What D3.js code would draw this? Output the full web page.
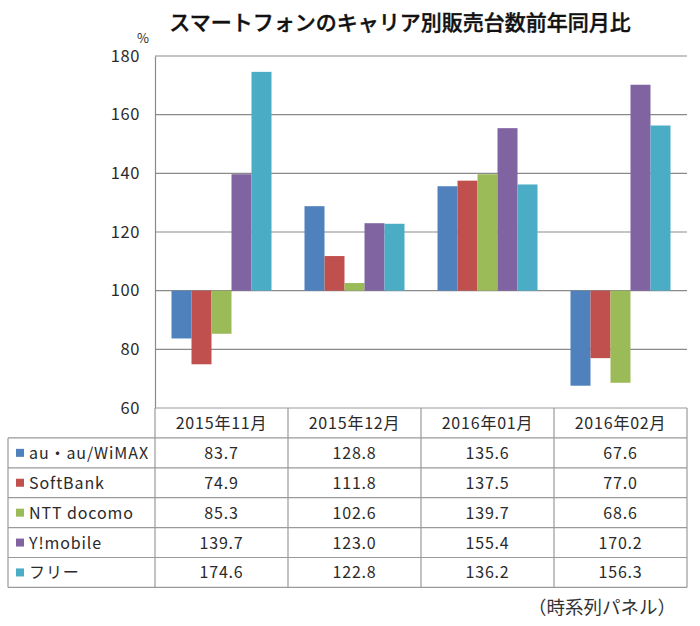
<!DOCTYPE html>
<html><head><meta charset="utf-8">
<script src="https://cdn.jsdelivr.net/npm/d3@7"></script>
<style>
html,body{margin:0;padding:0;background:#fff;}
svg{display:block;font-family:"Noto Sans CJK JP","Noto Sans",sans-serif;}
</style></head>
<body>
<svg id="c" width="700" height="626"></svg>
<script>
const title = "スマートフォンのキャリア別販売台数前年同月比";
const categories = ["2015年11月","2015年12月","2016年01月","2016年02月"];
const seriesNames = ["au・au/WiMAX","SoftBank","NTT docomo","Y!mobile","フリー"];
const auValues = [83.7,128.8,135.6,67.6];
const softbankValues = [74.9,111.8,137.5,77.0];
const docomoValues = [85.3,102.6,139.7,68.6];
const ymobileValues = [139.7,123.0,155.4,170.2];
const freeValues = [174.6,122.8,136.2,156.3];
const yTicks = [60,80,100,120,140,160,180];
const colors = ["#4F81BD","#C0504D","#9BBB59","#8064A2","#4BACC6"];
const baseline = 100;
const note = "（時系列パネル）";

const seriesValues = [auValues,softbankValues,docomoValues,ymobileValues,freeValues];
const series = seriesNames.map((n,i)=>({name:n,color:colors[i],values:seriesValues[i]}));

const svg = d3.select("#c");
const plotL = 155, plotR = 687, plotT = 56, plotB = 408;
const tableL = 8, rowH = 29.9;
const txt = "#2a2a2a";

const x0 = d3.scaleBand().domain(categories).range([plotL,plotR]).padding(0);
const x1 = d3.scaleBand().domain(seriesNames).range([0,x0.bandwidth()]).paddingInner(0).paddingOuter(0.825);
const y = d3.scaleLinear().domain([60,180]).range([plotB,plotT]);

// title
svg.append("text").attr("x",400).attr("y",30).attr("text-anchor","middle")
  .attr("font-size",21).attr("font-weight",500).attr("fill","#111")
  .attr("stroke","#111").attr("stroke-width",0.4).text(title);
svg.append("text").attr("x",143).attr("y",43).attr("text-anchor","middle")
  .attr("font-size",13).attr("fill",txt).text("%");

// gridlines
svg.append("g").selectAll("line").data(yTicks.filter(t=>t>60)).join("line")
  .attr("x1",plotL).attr("x2",plotR).attr("y1",d=>y(d)).attr("y2",d=>y(d))
  .attr("stroke","#8a8a8a").attr("stroke-width",1.2);

// y axis
const yAxis = d3.axisLeft(y).tickValues(yTicks).tickSize(0).tickPadding(15).tickFormat(d3.format("d"));
const gy = svg.append("g").attr("transform",`translate(${plotL},0)`).call(yAxis);
gy.select(".domain").attr("stroke","#8a8a8a").attr("stroke-width",1.2);
gy.selectAll("text").attr("font-size",16.5).attr("letter-spacing",0.6).attr("fill",txt)
  .attr("font-family","'Noto Sans CJK JP',sans-serif");

// bars
const groups = svg.append("g").selectAll("g").data(series).join("g").attr("fill",d=>d.color);
groups.selectAll("rect").data(d=>d.values.map((v,i)=>({v,cat:categories[i],name:d.name}))).join("rect")
  .attr("x",d=>x0(d.cat)+x1(d.name))
  .attr("width",x1.bandwidth())
  .attr("y",d=>Math.min(y(d.v),y(baseline)))
  .attr("height",d=>Math.abs(y(d.v)-y(baseline)));

// table
const tbl = svg.append("g").attr("stroke","#9a9a9a").attr("stroke-width",1.2);
const tableB = plotB + rowH*(series.length+1);
tbl.append("line").attr("x1",plotL).attr("x2",plotR).attr("y1",plotB).attr("y2",plotB);
d3.range(1,series.length+2).forEach(i=>{
  tbl.append("line").attr("x1",tableL).attr("x2",plotR).attr("y1",plotB+rowH*i).attr("y2",plotB+rowH*i);
});
tbl.append("line").attr("x1",tableL).attr("x2",tableL).attr("y1",plotB+rowH).attr("y2",tableB);
categories.forEach(c=>{
  tbl.append("line").attr("x1",x0(c)).attr("x2",x0(c)).attr("y1",plotB).attr("y2",tableB);
});
tbl.append("line").attr("x1",plotR).attr("x2",plotR).attr("y1",plotB).attr("y2",tableB);

// header text
svg.append("g").selectAll("text").data(categories).join("text")
  .attr("x",d=>x0(d)+x0.bandwidth()/2).attr("y",plotB+rowH/2+6)
  .attr("text-anchor","middle").attr("font-size",16).attr("letter-spacing",0.8).attr("fill",txt).text(d=>d);

// rows
series.forEach((s,i)=>{
  const cy = plotB+rowH*(i+1)+rowH/2;
  svg.append("rect").attr("x",tableL+8).attr("y",cy-4).attr("width",8).attr("height",8).attr("fill",s.color);
  svg.append("text").attr("x",tableL+21).attr("y",cy+6).attr("font-size",16).attr("letter-spacing",0.9)
    .attr("fill",txt).text(s.name);
  svg.append("g").selectAll("text").data(s.values).join("text")
    .attr("x",(d,j)=>x0(categories[j])+x0.bandwidth()/2).attr("y",cy+6)
    .attr("text-anchor","middle").attr("font-size",16).attr("letter-spacing",0.8).attr("fill",txt).text(d=>d.toFixed(1));
});

svg.append("text").attr("x",676).attr("y",614).attr("text-anchor","end")
  .attr("font-size",18.5).attr("fill","#333").text(note);
</script>
</body></html>
